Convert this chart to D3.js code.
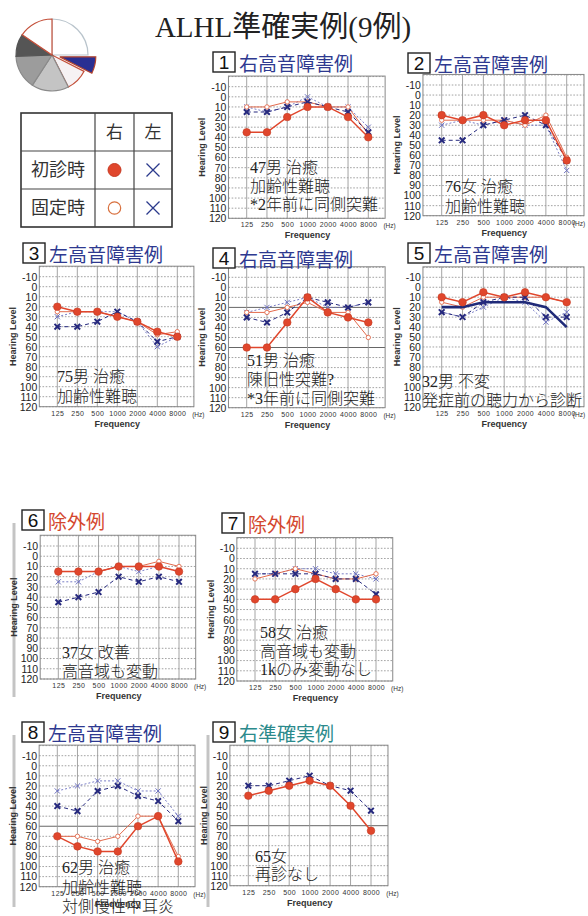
<!DOCTYPE html>
<html><head><meta charset="utf-8">
<script src="https://cdn.jsdelivr.net/npm/d3@7"></script>
<style>body{margin:0;background:#fff} svg{display:block}</style>
</head><body>
<svg id="c" width="588" height="916"></svg>
<script>
// Audiogram frequencies and hearing-level ticks
const freqLabels = ["125","250","500","1000","2000","4000","8000"];
const levelTicks = [-10,0,10,20,30,40,50,60,70,80,90,100,110,120];

// Case headings and notes
const caseTitles = ["右高音障害例","左高音障害例","左高音障害例","右高音障害例","左高音障害例","除外例","除外例","左高音障害例","右準確実例"];
const titleKinds = ["blue","blue","blue","blue","blue","red","red","blue","teal"];
const caseNotes = [
  ["47男 治癒","加齢性難聴","*2年前に同側突難"],
  ["76女 治癒","加齢性難聴"],
  ["75男 治癒","加齢性難聴"],
  ["51男 治癒","陳旧性突難?","*3年前に同側突難"],
  ["32男 不変","発症前の聴力から診断"],
  ["37女 改善","高音域も変動"],
  ["58女 治癒","高音域も変動","1kのみ変動なし"],
  ["62男 治癒","加齢性難聴","対側慢性中耳炎"],
  ["65女","再診なし"]
];

// Thresholds (dB) at 125..8000 Hz for each case
const rightInitial = [
  [35,35,20,10,10,20,40],
  [20,25,20,30,25,25,65],
  [20,25,25,30,35,45,50],
  [60,60,35,10,25,30,35],
  [10,15,5,10,5,10,15],
  [15,15,15,10,10,10,15],
  [40,40,30,20,30,40,40],
  [70,80,85,85,60,50,95],
  [30,25,20,15,20,40,65]
];
const rightFixed = [
  [10,10,5,5,10,10,37],
  [25,25,25,25,30,20,62],
  [25,25,25,30,35,48,45],
  [25,25,20,15,25,25,50],
  [15,20,10,10,10,10,15],
  [15,15,15,10,10,5,10],
  [20,15,10,15,20,20,15],
  [70,70,75,70,50,50,90],
  null
];
const leftInitial = [
  [15,15,10,5,10,15,35],
  [45,45,30,25,20,30,65],
  [40,40,35,25,35,55,50],
  [30,35,25,10,15,20,15],
  [25,30,15,10,10,30,30],
  [45,40,35,20,25,20,25],
  [15,15,15,15,20,20,35],
  [40,45,25,20,30,35,55],
  [20,20,15,10,20,25,45]
];
const leftFixed = [
  [10,15,10,0,10,10,30],
  [30,25,30,25,30,30,75],
  [30,25,25,25,35,60,50],
  [25,20,15,10,20,20,15],
  [25,30,20,10,15,35,25],
  [25,25,15,10,15,10,15],
  [15,15,10,10,15,15,20],
  [25,20,15,15,25,25,50],
  null
];
// Case 5: left-ear hearing before onset
const preOnsetLeft5 = [20,20,15,15,15,20,40];

// Overview pie and legend
const pieShares = [90,27,36,60,55,36,56];
const legendCols = ["右","左"];
const legendRows = ["初診時","固定時"];

const svg = d3.select("#c");
const CJK = "'Noto Sans CJK JP','Noto Sans',sans-serif";
const SERIF = "'Liberation Serif','Noto Sans CJK JP',serif";
const SANS = "'Liberation Sans',Arial,sans-serif";
const NARROW = "'Liberation Sans Narrow','Liberation Sans',sans-serif";
const RED = "#e0462c", RED2 = "#e26a4c", NAVY = "#26297e", BLUE2 = "#6b6fc0";
const titleColor = {blue:"#2e3990", red:"#d4472e", teal:"#2b8a8c"};

// Main heading
svg.append("text").attr("x",283).attr("y",37).attr("text-anchor","middle")
  .style("font-family",SERIF).style("font-size","29px").style("fill","#222")
  .text("ALHL準確実例(9例)");

// Pie overview
(function(){
  const cx = 52, cy = 55, r = 36;
  const fills = ["#ffffff","#2a2f92","#f6f2f4","#c4c4c4","#9c9c9c","#555555","#ffffff"];
  const strokes = ["#b9c4cc","#b4452e","#c4503a","#8a8a8a","#8a8a8a","#555","#c4503a"];
  const arcs = d3.pie().sort(null).value(d=>d)(pieShares);
  const arc = d3.arc().innerRadius(0).outerRadius(r);
  const g = svg.append("g").attr("transform",`translate(${cx},${cy})`);
  arcs.forEach((a,i)=>{
    let tx = 0, ty = 0;
    if (i === 1) {
      const m = (a.startAngle + a.endAngle)/2;
      tx = Math.sin(m)*8; ty = -Math.cos(m)*8;
    }
    g.append("path").attr("d",arc(a)).attr("transform",`translate(${tx},${ty})`)
      .attr("fill",fills[i]).attr("stroke",strokes[i]).attr("stroke-width",1.2);
  });
})();

// Legend table
(function(){
  const xs = [21,95,134,172], ys = [113,151,189,227];
  const g = svg.append("g");
  g.append("rect").attr("x",xs[0]).attr("y",ys[0]).attr("width",xs[3]-xs[0]).attr("height",ys[3]-ys[0])
    .attr("fill","none").attr("stroke","#333").attr("stroke-width",1.6);
  [xs[1],xs[2]].forEach(x=>g.append("line").attr("x1",x).attr("x2",x).attr("y1",ys[0]).attr("y2",ys[3]).attr("stroke","#444").attr("stroke-width",1.2));
  [ys[1],ys[2]].forEach(y=>g.append("line").attr("x1",xs[0]).attr("x2",xs[3]).attr("y1",y).attr("y2",y).attr("stroke","#444").attr("stroke-width",1.2));
  legendCols.forEach((t,i)=>g.append("text").attr("x",(xs[i+1]+xs[i+2])/2).attr("y",(ys[0]+ys[1])/2).attr("dy","0.36em")
    .attr("text-anchor","middle").style("font-family",CJK).style("font-size","17px").style("fill","#333").text(t));
  legendRows.forEach((t,i)=>g.append("text").attr("x",(xs[0]+xs[1])/2).attr("y",(ys[i+1]+ys[i+2])/2).attr("dy","0.36em")
    .attr("text-anchor","middle").style("font-family",CJK).style("font-size","18px").style("fill","#333").text(t));
  const cR = (xs[1]+xs[2])/2, cL = (xs[2]+xs[3])/2;
  const y1 = (ys[1]+ys[2])/2, y2 = (ys[2]+ys[3])/2;
  g.append("circle").attr("cx",cR).attr("cy",y1).attr("r",6.5).attr("fill",RED).attr("stroke","#c83a22");
  g.append("circle").attr("cx",cR).attr("cy",y2).attr("r",6.2).attr("fill","#fff").attr("stroke","#d8703e").attr("stroke-width",1.2);
  [y1,y2].forEach(y=>{
    g.append("path").attr("d",`M${cL-6.5},${y-6.5}L${cL+6.5},${y+6.5}M${cL+6.5},${y-6.5}L${cL-6.5},${y+6.5}`)
      .attr("stroke","#2b3a8c").attr("stroke-width",1.3);
  });
})();

// Panel placement
const layout = [
  {x0:246.7,x1:368.3,y0:86.7,y1:218.3,box:[213,52],note:[250,173,18.5],solid:[]},
  {x0:441.7,x1:566.7,y0:85,y1:215.7,box:[408,53],note:[445,192,20],solid:[]},
  {x0:57.3,x1:177.3,y0:276.7,y1:406.7,box:[23,243],note:[57,382,20],solid:[]},
  {x0:246.7,x1:368.3,y0:277.3,y1:407.7,box:[213,248],note:[247,366,19],solid:[20,60]},
  {x0:441.7,x1:566.7,y0:277.3,y1:406.7,box:[408,243],note:[422,387,19],solid:[]},
  {x0:58.3,x1:179,y0:546,y1:679,box:[22,510],note:[62,658,19],solid:[],strip:[14,523,697]},
  {x0:255,x1:376,y0:548.3,y1:681,box:[222,513],note:[260,638,18.5],solid:[]},
  {x0:57.3,x1:178.3,y0:755.7,y1:886.7,box:[22,722],note:[62,873,19.5],solid:[60],strip:[14,735,907]},
  {x0:248.3,x1:371,y0:755.7,y1:885.7,box:[213,722],note:[255,862,18],solid:[60],strip:[208,735,907]}
];

function drawPanel(i){
  const L = layout[i];
  const x = d3.scaleLinear().domain([0,6]).range([L.x0,L.x1]);
  const y = d3.scaleLinear().domain([-10,120]).range([L.y0,L.y1]);
  const dx = (L.x1-L.x0)/6;
  const left = L.x0-0.9*dx, right = L.x1+0.83*dx;
  const top = y(-20.5), bottom = y(120);
  const g = svg.append("g");

  if (L.strip) g.append("line").attr("x1",L.strip[0]).attr("x2",L.strip[0]).attr("y1",L.strip[1]).attr("y2",L.strip[2])
    .attr("stroke","#c4c4c4").attr("stroke-width",3);

  // grid
  d3.range(-20,121,10).forEach(v=>{
    const solid = L.solid.includes(v);
    g.append("line").attr("x1",left).attr("x2",right).attr("y1",y(v)).attr("y2",y(v))
      .attr("stroke",solid?"#666":"#8a8a8a").attr("stroke-width",solid?1:0.8)
      .attr("stroke-dasharray",solid?null:"1.6,1.6");
  });
  d3.range(7).forEach(k=>{
    g.append("line").attr("x1",x(k)).attr("x2",x(k)).attr("y1",top).attr("y2",bottom)
      .attr("stroke","#9a9a9a").attr("stroke-width",0.9);
  });
  g.append("rect").attr("x",left).attr("y",top).attr("width",right-left).attr("height",bottom-top)
    .attr("fill","none").attr("stroke","#888").attr("stroke-width",1);

  // axes
  const ya = g.append("g").attr("transform",`translate(${left},0)`)
    .call(d3.axisLeft(y).tickValues(levelTicks).tickFormat(v=>String(v)).tickSize(0).tickPadding(2));
  ya.select(".domain").remove();
  ya.selectAll("text").style("font-family",NARROW).style("font-size","10.5px").style("fill","#222");
  const xa = g.append("g").attr("transform",`translate(0,${bottom})`)
    .call(d3.axisBottom(x).tickValues(d3.range(7)).tickFormat(k=>freqLabels[k]).tickSize(0).tickPadding(4));
  xa.select(".domain").remove();
  xa.selectAll("text").style("font-family",SANS).style("font-size","7px").style("letter-spacing","0.4px").style("fill","#333");
  const hzX = Math.min(x(6)+dx*1.05, 579);
  g.append("text").attr("x",hzX).attr("y",bottom+10).attr("text-anchor","middle")
    .style("font-family",SANS).style("font-size","6.5px").style("fill","#333").text("(Hz)");
  g.append("text").attr("x",x(3)).attr("y",bottom+20).attr("text-anchor","middle")
    .style("font-family",SANS).style("font-size","9px").style("font-weight","bold").style("fill","#333").text("Frequency");
  g.append("text").attr("transform",`translate(${left-23},${(top+bottom)/2}) rotate(-90)`).attr("text-anchor","middle")
    .style("font-family",SANS).style("font-size","9px").style("font-weight","bold").style("fill","#333").text("Hearing Level");

  const line = d3.line().x((d,k)=>x(k)).y(d=>y(d));
  const cross = (s)=>`M${-s},${-s}L${s},${s}M${s},${-s}L${-s},${s}`;

  // fixed (follow-up) thresholds
  if (leftFixed[i]) {
    g.append("path").attr("d",line(leftFixed[i])).attr("fill","none").attr("stroke",BLUE2).attr("stroke-width",0.9).attr("stroke-dasharray","2,2");
    leftFixed[i].forEach((v,k)=>g.append("path").attr("d",cross(2.6)).attr("transform",`translate(${x(k)},${y(v)})`).attr("stroke",BLUE2).attr("stroke-width",1));
  }
  if (rightFixed[i]) {
    g.append("path").attr("d",line(rightFixed[i])).attr("fill","none").attr("stroke",RED2).attr("stroke-width",1);
    rightFixed[i].forEach((v,k)=>g.append("circle").attr("cx",x(k)).attr("cy",y(v)).attr("r",2.2).attr("fill","#fff").attr("stroke",RED2).attr("stroke-width",0.9));
  }
  if (i === 4) {
    g.append("path").attr("d",line(preOnsetLeft5)).attr("fill","none").attr("stroke","#1f2a78").attr("stroke-width",2.6);
  }
  // initial thresholds
  g.append("path").attr("d",line(leftInitial[i])).attr("fill","none").attr("stroke",NAVY).attr("stroke-width",1).attr("stroke-dasharray","4,3");
  leftInitial[i].forEach((v,k)=>g.append("path").attr("d",cross(2.8)).attr("transform",`translate(${x(k)},${y(v)})`).attr("stroke",NAVY).attr("stroke-width",2));
  g.append("path").attr("d",line(rightInitial[i])).attr("fill","none").attr("stroke",RED).attr("stroke-width",1.5);
  rightInitial[i].forEach((v,k)=>g.append("circle").attr("cx",x(k)).attr("cy",y(v)).attr("r",3.8).attr("fill",RED).attr("stroke","#c43a22").attr("stroke-width",0.6));

  // notes
  caseNotes[i].forEach((t,k)=>g.append("text").attr("x",L.note[0]).attr("y",L.note[1]+k*L.note[2])
    .style("font-family",SERIF).style("font-size","16px").style("font-weight","300").style("fill","#222").text(t));

  // number box + heading
  const [bx,by] = L.box;
  g.append("rect").attr("x",bx).attr("y",by).attr("width",22).attr("height",20)
    .attr("fill","#fff").attr("stroke","#222").attr("stroke-width",1.4);
  g.append("text").attr("x",bx+11).attr("y",by+17).attr("text-anchor","middle")
    .style("font-family",SANS).style("font-size","19px").style("fill","#111").text(i+1);
  g.append("text").attr("x",bx+26).attr("y",by+18.5)
    .style("font-family",CJK).style("font-size","19px").style("fill",titleColor[titleKinds[i]]).text(caseTitles[i]);
}
d3.range(9).forEach(drawPanel);
</script>
</body></html>
